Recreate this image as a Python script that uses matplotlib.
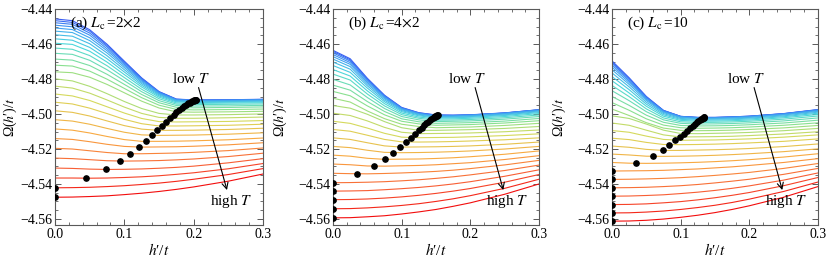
import matplotlib
matplotlib.use("Agg")
import matplotlib.pyplot as plt
from matplotlib.colors import LinearSegmentedColormap
from matplotlib.ticker import MultipleLocator, ScalarFormatter

plt.rcParams["font.family"] = "serif"
plt.rcParams["font.serif"] = ["Liberation Serif", "DejaVu Serif"]
plt.rcParams["mathtext.fontset"] = "stix"
plt.rcParams["font.size"] = 11

# h'/t sample points shared by every curve
h_grid = [0.0, 0.025, 0.05, 0.075, 0.1, 0.125, 0.15, 0.175, 0.2, 0.25, 0.3]

# (a) Lc = 2x2, lowest T first
omega_a = [
    [-4.4455, -4.4465, -4.4517, -4.4600, -4.4697, -4.4793, -4.4871, -4.4914, -4.4919, -4.4918, -4.4915],
    [-4.4465, -4.4475, -4.4525, -4.4607, -4.4702, -4.4796, -4.4873, -4.4915, -4.4920, -4.4919, -4.4916],
    [-4.4477, -4.4486, -4.4536, -4.4615, -4.4708, -4.4800, -4.4875, -4.4917, -4.4921, -4.4920, -4.4917],
    [-4.4491, -4.4500, -4.4548, -4.4626, -4.4716, -4.4805, -4.4877, -4.4918, -4.4922, -4.4921, -4.4918],
    [-4.4507, -4.4516, -4.4563, -4.4637, -4.4724, -4.4811, -4.4881, -4.4920, -4.4924, -4.4922, -4.4920],
    [-4.4525, -4.4533, -4.4579, -4.4650, -4.4734, -4.4818, -4.4885, -4.4923, -4.4927, -4.4925, -4.4923],
    [-4.4546, -4.4554, -4.4597, -4.4666, -4.4746, -4.4826, -4.4890, -4.4926, -4.4930, -4.4928, -4.4926],
    [-4.4569, -4.4577, -4.4618, -4.4683, -4.4759, -4.4835, -4.4896, -4.4930, -4.4934, -4.4932, -4.4930],
    [-4.4594, -4.4601, -4.4640, -4.4702, -4.4774, -4.4845, -4.4903, -4.4936, -4.4939, -4.4937, -4.4935],
    [-4.4622, -4.4629, -4.4665, -4.4723, -4.4791, -4.4858, -4.4912, -4.4943, -4.4946, -4.4944, -4.4942],
    [-4.4652, -4.4658, -4.4692, -4.4746, -4.4809, -4.4872, -4.4923, -4.4951, -4.4954, -4.4953, -4.4950],
    [-4.4685, -4.4691, -4.4722, -4.4772, -4.4830, -4.4888, -4.4935, -4.4961, -4.4964, -4.4962, -4.4959],
    [-4.4720, -4.4725, -4.4754, -4.4800, -4.4853, -4.4906, -4.4949, -4.4973, -4.4976, -4.4974, -4.4971],
    [-4.4758, -4.4763, -4.4789, -4.4830, -4.4878, -4.4926, -4.4965, -4.4987, -4.4989, -4.4987, -4.4984],
    [-4.4798, -4.4810, -4.4841, -4.4883, -4.4928, -4.4968, -4.4996, -4.5005, -4.5005, -4.5003, -4.4999],
    [-4.4840, -4.4851, -4.4880, -4.4919, -4.4960, -4.4996, -4.5019, -4.5024, -4.5024, -4.5021, -4.5017],
    [-4.4885, -4.4896, -4.4922, -4.4958, -4.4994, -4.5025, -4.5043, -4.5045, -4.5044, -4.5042, -4.5037],
    [-4.4932, -4.4942, -4.4966, -4.4997, -4.5030, -4.5055, -4.5068, -4.5068, -4.5067, -4.5064, -4.5058],
    [-4.4981, -4.4990, -4.5011, -4.5039, -4.5066, -4.5086, -4.5093, -4.5093, -4.5092, -4.5088, -4.5081],
    [-4.5032, -4.5040, -4.5058, -4.5082, -4.5104, -4.5119, -4.5122, -4.5121, -4.5120, -4.5115, -4.5107],
    [-4.5085, -4.5092, -4.5108, -4.5128, -4.5146, -4.5156, -4.5156, -4.5155, -4.5153, -4.5147, -4.5137],
    [-4.5140, -4.5145, -4.5158, -4.5173, -4.5185, -4.5189, -4.5188, -4.5187, -4.5184, -4.5176, -4.5164],
    [-4.5196, -4.5200, -4.5210, -4.5220, -4.5227, -4.5227, -4.5225, -4.5223, -4.5219, -4.5209, -4.5194],
    [-4.5252, -4.5255, -4.5261, -4.5267, -4.5269, -4.5268, -4.5266, -4.5262, -4.5257, -4.5243, -4.5224],
    [-4.5309, -4.5311, -4.5315, -4.5317, -4.5316, -4.5314, -4.5310, -4.5305, -4.5298, -4.5279, -4.5255],
    [-4.5366, -4.5366, -4.5367, -4.5366, -4.5363, -4.5359, -4.5353, -4.5345, -4.5336, -4.5313, -4.5283],
    [-4.5422, -4.5421, -4.5419, -4.5415, -4.5410, -4.5403, -4.5395, -4.5385, -4.5373, -4.5346, -4.5312],
    [-4.5476, -4.5475, -4.5472, -4.5468, -4.5461, -4.5453, -4.5443, -4.5431, -4.5417, -4.5384, -4.5343],
]
min_h_a = [0.204, 0.203, 0.202, 0.201, 0.200, 0.198, 0.196, 0.194, 0.192, 0.189, 0.186, 0.183, 0.179, 0.175,
           0.171, 0.166, 0.160, 0.154, 0.147, 0.140, 0.131, 0.121, 0.108, 0.093, 0.074, 0.045, 0.0, 0.0]
min_om_a = [-4.4919, -4.4920, -4.4921, -4.4922, -4.4924, -4.4927, -4.4930, -4.4934, -4.4939, -4.4946,
            -4.4954, -4.4964, -4.4976, -4.4989, -4.5005, -4.5024, -4.5045, -4.5068, -4.5093, -4.5122,
            -4.5156, -4.5189, -4.5227, -4.5269, -4.5317, -4.5367, -4.5422, -4.5476]

# (b) Lc = 4x2
omega_b = [
    [-4.4635, -4.4683, -4.4795, -4.4892, -4.4962, -4.4992, -4.5005, -4.5006, -4.5004, -4.4993, -4.4975],
    [-4.4641, -4.4689, -4.4799, -4.4894, -4.4964, -4.4993, -4.5006, -4.5007, -4.5005, -4.4994, -4.4975],
    [-4.4649, -4.4696, -4.4804, -4.4897, -4.4966, -4.4995, -4.5007, -4.5008, -4.5005, -4.4994, -4.4976],
    [-4.4659, -4.4705, -4.4810, -4.4901, -4.4968, -4.4996, -4.5009, -4.5009, -4.5006, -4.4995, -4.4977],
    [-4.4671, -4.4715, -4.4818, -4.4906, -4.4971, -4.4998, -4.5011, -4.5011, -4.5008, -4.4997, -4.4979],
    [-4.4685, -4.4728, -4.4827, -4.4912, -4.4975, -4.5001, -4.5014, -4.5013, -4.5010, -4.5000, -4.4982],
    [-4.4702, -4.4743, -4.4838, -4.4920, -4.4980, -4.5005, -4.5018, -4.5017, -4.5014, -4.5004, -4.4986],
    [-4.4722, -4.4761, -4.4851, -4.4929, -4.4986, -4.5010, -4.5022, -4.5021, -4.5018, -4.5008, -4.4991],
    [-4.4745, -4.4782, -4.4867, -4.4940, -4.4994, -4.5017, -4.5028, -4.5027, -4.5024, -4.5014, -4.4997],
    [-4.4771, -4.4805, -4.4885, -4.4953, -4.5003, -4.5024, -4.5035, -4.5034, -4.5031, -4.5021, -4.5005],
    [-4.4801, -4.4833, -4.4905, -4.4968, -4.5014, -4.5033, -4.5043, -4.5041, -4.5039, -4.5029, -4.5014],
    [-4.4834, -4.4863, -4.4928, -4.4985, -4.5027, -4.5044, -4.5053, -4.5051, -4.5049, -4.5040, -4.5025],
    [-4.4870, -4.4895, -4.4953, -4.5004, -4.5041, -4.5056, -4.5064, -4.5062, -4.5060, -4.5051, -4.5038],
    [-4.4909, -4.4931, -4.4982, -4.5026, -4.5058, -4.5071, -4.5078, -4.5076, -4.5074, -4.5065, -4.5053],
    [-4.4951, -4.4966, -4.5001, -4.5043, -4.5078, -4.5093, -4.5093, -4.5091, -4.5089, -4.5082, -4.5071],
    [-4.4995, -4.5008, -4.5039, -4.5076, -4.5104, -4.5112, -4.5111, -4.5110, -4.5108, -4.5101, -4.5091],
    [-4.5041, -4.5053, -4.5080, -4.5110, -4.5132, -4.5135, -4.5134, -4.5133, -4.5130, -4.5123, -4.5113],
    [-4.5088, -4.5098, -4.5121, -4.5145, -4.5159, -4.5160, -4.5159, -4.5157, -4.5154, -4.5147, -4.5136],
    [-4.5136, -4.5145, -4.5164, -4.5182, -4.5189, -4.5188, -4.5187, -4.5185, -4.5182, -4.5173, -4.5160],
    [-4.5185, -4.5192, -4.5207, -4.5219, -4.5221, -4.5220, -4.5218, -4.5215, -4.5211, -4.5200, -4.5185],
    [-4.5235, -4.5241, -4.5253, -4.5259, -4.5258, -4.5257, -4.5254, -4.5250, -4.5244, -4.5230, -4.5211],
    [-4.5286, -4.5290, -4.5297, -4.5298, -4.5296, -4.5294, -4.5290, -4.5284, -4.5278, -4.5260, -4.5238],
    [-4.5339, -4.5341, -4.5342, -4.5340, -4.5337, -4.5333, -4.5328, -4.5321, -4.5312, -4.5291, -4.5265],
    [-4.5393, -4.5392, -4.5390, -4.5387, -4.5382, -4.5376, -4.5368, -4.5359, -4.5348, -4.5323, -4.5292],
    [-4.5441, -4.5440, -4.5438, -4.5433, -4.5427, -4.5420, -4.5411, -4.5400, -4.5387, -4.5356, -4.5319],
    [-4.5490, -4.5489, -4.5486, -4.5481, -4.5474, -4.5465, -4.5454, -4.5441, -4.5426, -4.5390, -4.5346],
    [-4.5542, -4.5541, -4.5537, -4.5531, -4.5523, -4.5513, -4.5500, -4.5485, -4.5467, -4.5425, -4.5373],
    [-4.5594, -4.5593, -4.5588, -4.5582, -4.5572, -4.5560, -4.5546, -4.5528, -4.5508, -4.5459, -4.5400],
]
min_h_b = [0.153, 0.152, 0.151, 0.150, 0.149, 0.148, 0.147, 0.145, 0.143, 0.141, 0.139, 0.136, 0.133, 0.129,
           0.125, 0.119, 0.113, 0.106, 0.098, 0.088, 0.076, 0.060, 0.035, 0.0, 0.0, 0.0, 0.0, 0.0]
min_om_b = [-4.5007, -4.5008, -4.5009, -4.5010, -4.5012, -4.5014, -4.5018, -4.5022, -4.5028, -4.5035,
            -4.5043, -4.5053, -4.5064, -4.5078, -4.5093, -4.5112, -4.5135, -4.5160, -4.5189, -4.5221,
            -4.5259, -4.5298, -4.5342, -4.5393, -4.5441, -4.5490, -4.5542, -4.5594]

# (c) Lc = 10
omega_c = [
    [-4.4695, -4.4792, -4.4899, -4.4979, -4.5013, -4.5019, -4.5019, -4.5016, -4.5012, -4.4997, -4.4974],
    [-4.4701, -4.4796, -4.4901, -4.4979, -4.5013, -4.5019, -4.5019, -4.5016, -4.5012, -4.4998, -4.4975],
    [-4.4709, -4.4802, -4.4905, -4.4981, -4.5014, -4.5020, -4.5020, -4.5017, -4.5013, -4.4998, -4.4976],
    [-4.4719, -4.4810, -4.4909, -4.4983, -4.5015, -4.5021, -4.5021, -4.5018, -4.5014, -4.5000, -4.4978],
    [-4.4731, -4.4819, -4.4915, -4.4987, -4.5017, -4.5023, -4.5023, -4.5020, -4.5016, -4.5002, -4.4980],
    [-4.4746, -4.4830, -4.4922, -4.4991, -4.5020, -4.5026, -4.5025, -4.5023, -4.5019, -4.5005, -4.4984],
    [-4.4764, -4.4844, -4.4932, -4.4997, -4.5025, -4.5030, -4.5029, -4.5027, -4.5023, -4.5010, -4.4989],
    [-4.4785, -4.4860, -4.4943, -4.5004, -4.5030, -4.5035, -4.5034, -4.5032, -4.5028, -4.5015, -4.4995],
    [-4.4809, -4.4879, -4.4955, -4.5012, -4.5036, -4.5041, -4.5040, -4.5038, -4.5034, -4.5021, -4.5002],
    [-4.4836, -4.4900, -4.4970, -4.5022, -4.5044, -4.5048, -4.5047, -4.5045, -4.5041, -4.5029, -4.5011],
    [-4.4866, -4.4923, -4.4986, -4.5033, -4.5053, -4.5057, -4.5056, -4.5054, -4.5050, -4.5039, -4.5022],
    [-4.4899, -4.4950, -4.5006, -4.5047, -4.5065, -4.5068, -4.5067, -4.5065, -4.5061, -4.5051, -4.5035],
    [-4.4934, -4.4978, -4.5027, -4.5063, -4.5078, -4.5081, -4.5080, -4.5078, -4.5074, -4.5064, -4.5050],
    [-4.4971, -4.5008, -4.5049, -4.5080, -4.5093, -4.5095, -4.5094, -4.5092, -4.5088, -4.5079, -4.5065],
    [-4.5010, -4.5025, -4.5057, -4.5092, -4.5111, -4.5112, -4.5110, -4.5108, -4.5105, -4.5095, -4.5082],
    [-4.5051, -4.5064, -4.5092, -4.5119, -4.5131, -4.5130, -4.5129, -4.5127, -4.5123, -4.5114, -4.5101],
    [-4.5094, -4.5104, -4.5126, -4.5145, -4.5150, -4.5149, -4.5148, -4.5145, -4.5142, -4.5132, -4.5119],
    [-4.5138, -4.5146, -4.5162, -4.5174, -4.5175, -4.5174, -4.5172, -4.5169, -4.5165, -4.5156, -4.5142],
    [-4.5183, -4.5190, -4.5202, -4.5208, -4.5208, -4.5206, -4.5204, -4.5201, -4.5197, -4.5186, -4.5171],
    [-4.5229, -4.5234, -4.5241, -4.5242, -4.5241, -4.5239, -4.5236, -4.5232, -4.5227, -4.5215, -4.5199],
    [-4.5277, -4.5281, -4.5282, -4.5281, -4.5279, -4.5276, -4.5272, -4.5267, -4.5261, -4.5246, -4.5227],
    [-4.5326, -4.5325, -4.5324, -4.5322, -4.5318, -4.5314, -4.5308, -4.5302, -4.5294, -4.5277, -4.5255],
    [-4.5374, -4.5373, -4.5371, -4.5368, -4.5364, -4.5358, -4.5351, -4.5343, -4.5334, -4.5311, -4.5283],
    [-4.5422, -4.5421, -4.5419, -4.5415, -4.5410, -4.5403, -4.5394, -4.5384, -4.5373, -4.5345, -4.5311],
    [-4.5470, -4.5469, -4.5466, -4.5462, -4.5455, -4.5447, -4.5437, -4.5425, -4.5411, -4.5378, -4.5337],
    [-4.5518, -4.5517, -4.5514, -4.5508, -4.5501, -4.5491, -4.5479, -4.5465, -4.5449, -4.5410, -4.5363],
    [-4.5566, -4.5565, -4.5561, -4.5555, -4.5546, -4.5535, -4.5522, -4.5506, -4.5487, -4.5443, -4.5389],
    [-4.5613, -4.5612, -4.5608, -4.5601, -4.5591, -4.5579, -4.5564, -4.5546, -4.5525, -4.5476, -4.5415],
]
min_h_c = [0.134, 0.1338, 0.1334, 0.1328, 0.132, 0.131, 0.1295, 0.128, 0.126, 0.1235, 0.121, 0.118, 0.114, 0.110,
           0.1053, 0.099, 0.0917, 0.0835, 0.0738, 0.0602, 0.035, 0.0, 0.0, 0.0, 0.0, 0.0, 0.0, 0.0]
min_om_c = [-4.5019, -4.5019, -4.5020, -4.5021, -4.5023, -4.5026, -4.5030, -4.5035, -4.5041, -4.5048,
            -4.5057, -4.5068, -4.5081, -4.5095, -4.5112, -4.5131, -4.5150, -4.5175, -4.5208, -4.5242,
            -4.5282, -4.5326, -4.5374, -4.5422, -4.5470, -4.5518, -4.5566, -4.5613]

panel_labels = [r"(a) $L_\mathrm{c}\,$=2$\times$2", r"(b) $L_\mathrm{c}\,$=4$\times$2",
                r"(c) $L_\mathrm{c}\,$=10"]

rainbow = LinearSegmentedColormap.from_list("rb", [
    (0.00, (0.22, 0.36, 0.95)), (0.15, (0.25, 0.65, 0.95)), (0.30, (0.30, 0.85, 0.85)),
    (0.45, (0.55, 0.88, 0.55)), (0.60, (0.85, 0.85, 0.35)), (0.75, (0.98, 0.65, 0.25)),
    (0.90, (0.97, 0.35, 0.20)), (1.00, (0.95, 0.05, 0.05))])

fig = plt.figure(figsize=(8.3, 2.62), dpi=100)
lefts = [0.0663, 0.4012, 0.7373]
widths = [0.2506, 0.2482, 0.2482]
ylab_x = [-0.175, -0.215, -0.215]

data = [(omega_a, min_h_a, min_om_a), (omega_b, min_h_b, min_om_b), (omega_c, min_h_c, min_om_c)]

for i, (omega, mh, mo) in enumerate(data):
    ax = fig.add_axes([lefts[i], 0.1412, widths[i], 0.8233])
    n = len(omega)
    for k, row in enumerate(omega):
        ax.plot(h_grid, row, color=rainbow(k / (n - 1)), lw=0.8)
    ax.plot(mh, mo, "o", color="black", ms=3.8, zorder=5)

    ax.annotate("", xy=(0.248, -4.5435), xytext=(0.207, -4.4848),
                arrowprops=dict(arrowstyle="->", color="black", lw=0.8,
                                shrinkA=0, shrinkB=0))
    ax.text(0.196, -4.4800, r"low $T$", ha="center", va="center")
    ax.text(0.254, -4.5500, r"high $T$", ha="center", va="center")
    ax.text(0.022, -4.4478, panel_labels[i], ha="left", va="center")

    ax.set_xlim(0, 0.3)
    ax.set_ylim(-4.5635, -4.44)
    ax.xaxis.set_major_locator(MultipleLocator(0.1))
    ax.xaxis.set_minor_locator(MultipleLocator(0.02))
    ax.yaxis.set_major_locator(MultipleLocator(0.02))
    ax.yaxis.set_minor_locator(MultipleLocator(0.005))
    ax.yaxis.set_major_formatter(ScalarFormatter(useOffset=False))
    ax.tick_params(which="both", direction="in", top=True, right=True, color="0.35")
    ax.tick_params(which="major", length=4, width=0.7, pad=2, labelsize=10)
    ax.tick_params(which="minor", length=2, width=0.6)
    for sp in ax.spines.values():
        sp.set_color("0.35")
        sp.set_linewidth(0.8)
    ax.set_xlabel("$h$\u2032/$t$", labelpad=1)
    ax.set_ylabel("\u03a9($h$\u2032)/$t$", fontsize=10)
    ax.yaxis.set_label_coords(ylab_x[i], 0.5)

fig.savefig("out.png", dpi=100)
